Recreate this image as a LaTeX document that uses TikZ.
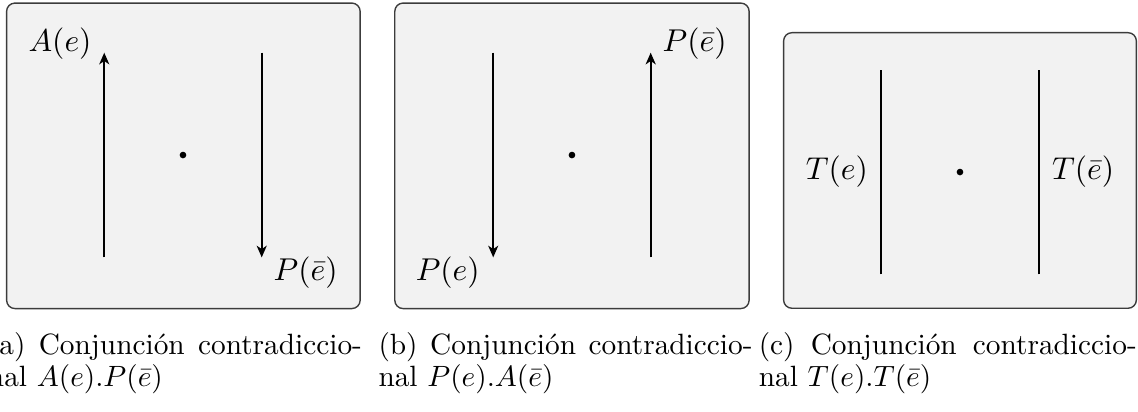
\RequirePackage{fix-cm}
\documentclass[tikz,border=0pt]{standalone}
\usepackage{amsmath}
\usepackage{fontspec}
\usepackage{tikz}
\usetikzlibrary{arrows.meta,positioning}
\definecolor{panelgray}{RGB}{242,242,242}
\definecolor{framegray}{RGB}{60,60,60}
\tikzset{
  panel/.style={draw=framegray,fill=panelgray,rounded corners=3pt,line width=0.5pt},
  vecarrow/.style={-{Stealth[length=4.2pt,width=3.6pt,inset=1.2pt]},thick},
  vline/.style={thick},
  punto/.style={circle,fill=black,inner sep=0pt,minimum size=2.4pt},
  etiq/.style={inner sep=0.3em,font=\fontsize{11.4}{13}\selectfont},
  pie/.style={anchor=north west,text width=4.75cm,align=left,inner sep=0pt,
    font=\fontsize{10.6}{11.5}\selectfont},
}
\begin{document}
\begin{tikzpicture}
  \useasboundingbox (0,0) rectangle (14.453,5.22);
  \begin{scope}[shift={(2.324,3.251)}]
    \draw[panel] (-2.24,-1.95) rectangle (2.25,1.93);
    \node[punto] (o1) at (0,0) {};
    \coordinate (u1b) at (-1,-1.3);
    \coordinate (u1t) at (-1,1.3);
    \coordinate (d1t) at (1,1.3);
    \coordinate (d1b) at (1,-1.3);
    \draw[vecarrow] (u1b) -- (u1t);
    \draw[vecarrow] (d1t) -- (d1b);
    \node[etiq,above left=-0.2cm and 0.05cm of u1t] (la1) {$A(e)$};
    \node[etiq,below right=-0.12cm and 0.04cm of d1b] (lp1) {$P(\bar{e})$};
  \end{scope}
  \begin{scope}[shift={(7.264,3.251)}]
    \draw[panel] (-2.25,-1.95) rectangle (2.25,1.93);
    \node[punto] (o2) at (0,0) {};
    \coordinate (d2t) at (-1,1.3);
    \coordinate (d2b) at (-1,-1.3);
    \coordinate (u2b) at (1,-1.3);
    \coordinate (u2t) at (1,1.3);
    \draw[vecarrow] (d2t) -- (d2b);
    \draw[vecarrow] (u2b) -- (u2t);
    \node[etiq,below left=-0.12cm and 0.06cm of d2b] (lp2) {$P(e)$};
    \node[etiq,above right=-0.2cm and 0.04cm of u2t] (lpb2) {$P(\bar{e})$};
  \end{scope}
  \begin{scope}[shift={(12.192,3.035)}]
    \draw[panel] (-2.24,-1.73) rectangle (2.24,1.77);
    \node[punto] (o3) at (0,0) {};
    \coordinate (t3lb) at (-1,-1.3);
    \coordinate (t3lt) at (-1,1.3);
    \coordinate (t3rb) at (1,-1.3);
    \coordinate (t3rt) at (1,1.3);
    \draw[vline] (t3lb) -- node[etiq,left=0.05cm] (lt3) {$T(e)$} (t3lt);
    \draw[vline] (t3rb) -- node[etiq,right=0.05cm] (ltb3) {$T(\bar{e})$} (t3rt);
  \end{scope}
  \node[pie] (capa) at (-0.16,1.0) {(a)\hfill Conjunción\hfill contradiccio-\\nal $A(e).P(\bar{e})$};
  \node[pie] (capb) at (4.80,1.0) {(b)\hfill Conjunción\hfill contradiccio-\\nal $P(e).A(\bar{e})$};
  \node[pie,text width=4.8cm] (capc) at (9.63,1.0) {(c)\hfill Conjunción\hfill contradiccio-\\nal $T(e).T(\bar{e})$};
\end{tikzpicture}
\end{document}
